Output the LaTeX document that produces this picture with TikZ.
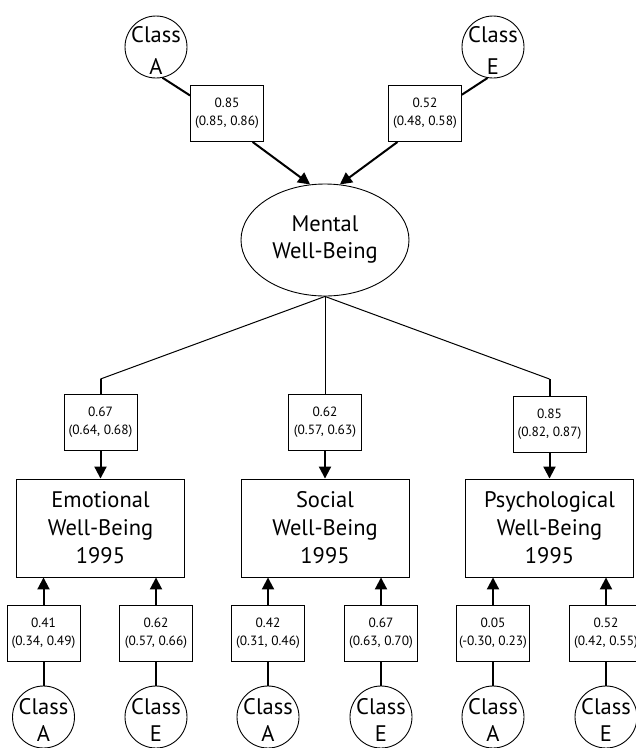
\documentclass[tikz,border=0pt]{standalone}
\usepackage{fontspec}
\setmainfont{PT Sans}
\usetikzlibrary{arrows.meta,shapes.geometric}

\tikzset{
    lat/.style={shape=circle,draw=black,line width=0.9pt,minimum size=62pt,inner sep=0pt},
    cls/.style={align=center,inner sep=0pt,font=\fontsize{22.5}{27}\selectfont},
    coef/.style={shape=rectangle,draw=black,line width=0.9pt,fill=white,minimum width=73pt,minimum height=56pt,inner sep=1pt,align=center,font=\fontsize{13.4}{18}\selectfont},
    obs/.style={shape=rectangle,draw=black,line width=0.9pt,minimum width=168pt,minimum height=98pt,align=center,font=\fontsize{22.5}{28}\selectfont},
    link/.style={line width=2pt},
    load/.style={line width=1pt},
    arr/.style={line width=2pt,-{Triangle[length=12pt,width=12pt]}}
}

\begin{document}
\begin{tikzpicture}[x=1pt,y=-1pt]
    \useasboundingbox (0,0) rectangle (636,748);
    \clip (0,0) rectangle (636,748);
    \node[lat,label={[cls,font=\fontsize{22.5}{32}\selectfont,yshift=-3.5pt]center:Class\\A}] (c1) at (156,47) {};
    \node[lat,label={[cls,font=\fontsize{22.5}{32}\selectfont,yshift=-3.5pt]center:Class\\E}] (c2) at (493,47) {};
    \node[coef] (b1) at (227,113.5) {0.85\\(0.85, 0.86)};
    \node[coef] (b2) at (425,113.5) {0.52\\(0.48, 0.58)};
    \node[shape=ellipse,draw=black,line width=0.9pt,minimum width=168pt,minimum height=112pt,align=center,font=\fontsize{22.5}{27}\selectfont] (mwb) at (325,240) {Mental\\Well-Being};

    \node[coef] (l1) at (100.5,422.5) {0.67\\(0.64, 0.68)};
    \node[coef] (l2) at (325,422.5) {0.62\\(0.57, 0.63)};
    \node[coef] (l3) at (549.5,424) {0.85\\(0.82, 0.87)};
    \coordinate (k1) at (100.5,379);
    \coordinate (k3) at (549.5,379);

    \node[obs] (ewb) at (100.5,528) {Emotional\\Well-Being\\1995};
    \node[obs] (swb) at (325,528) {Social\\Well-Being\\1995};
    \node[obs] (pwb) at (549.5,528) {Psychological\\Well-Being\\1995};

    \node[coef] (m1) at (43.5,633) {0.41\\(0.34, 0.49)};
    \node[coef] (m2) at (156,633) {0.62\\(0.57, 0.66)};
    \node[coef] (m3) at (268,633) {0.42\\(0.31, 0.46)};
    \node[coef] (m4) at (381,633) {0.67\\(0.63, 0.70)};
    \node[coef] (m5) at (493,633) {0.05\\(-0.30, 0.23)};
    \node[coef] (m6) at (606,633) {0.52\\(0.42, 0.55)};

    \node[lat,label={[cls,yshift=-3pt]center:Class\\A}] (d1) at (43.5,717) {};
    \node[lat,label={[cls,yshift=-3pt]center:Class\\E}] (d2) at (156,717) {};
    \node[lat,label={[cls,yshift=-3pt]center:Class\\A}] (d3) at (268,717) {};
    \node[lat,label={[cls,yshift=-3pt]center:Class\\E}] (d4) at (381,717) {};
    \node[lat,label={[cls,yshift=-3pt]center:Class\\A}] (d5) at (493,717) {};
    \node[lat,label={[cls,yshift=-3pt]center:Class\\E}] (d6) at (606,717) {};

    % top paths
    \path [link] (c1.-78) edge (b1.154);
    \path [arr] (b1.-48) edge (mwb.105);
    \path [link] (c2.-100) edge (b2.27);
    \path [arr] (b2.-134) edge (mwb.75);

    % loadings
    \draw [load] (mwb.south) -- (k1);
    \draw [link] (k1) -- (l1.north);
    \draw [load] (mwb.south) -- (l2.north);
    \draw [load] (mwb.south) -- (k3);
    \draw [link] (k3) -- (l3.north);
    \path [arr] (l1) edge (ewb);
    \path [arr] (l2) edge (swb);
    \path [arr] (l3) edge (pwb);

    % bottom paths
    \path [link] (d1) edge (m1);
    \path [link] (d2) edge (m2);
    \path [link] (d3) edge (m3);
    \path [link] (d4) edge (m4);
    \path [link] (d5) edge (m5);
    \path [link] (d6) edge (m6);
    \path [arr] (m1.north) edge (m1.north |- ewb.south);
    \path [arr] (m2.north) edge (m2.north |- ewb.south);
    \path [arr] (m3.north) edge (m3.north |- swb.south);
    \path [arr] (m4.north) edge (m4.north |- swb.south);
    \path [arr] (m5.north) edge (m5.north |- pwb.south);
    \path [arr] (m6.north) edge (m6.north |- pwb.south);
\end{tikzpicture}
\end{document}
